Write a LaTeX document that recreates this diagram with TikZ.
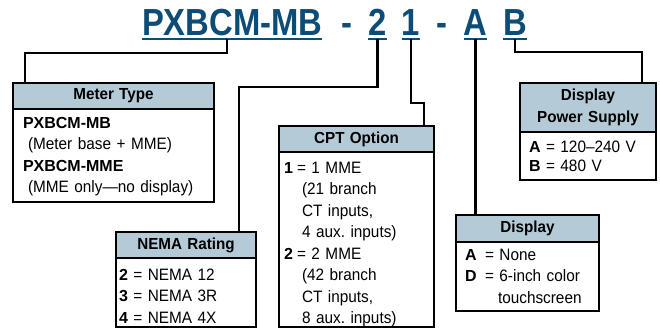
\documentclass[tikz,border=0pt]{standalone}
\usepackage{fontspec}
\setmainfont{Liberation Sans}
\newfontfamily\titlefamily{Liberation Sans}[FakeStretch=0.87]
\newfontfamily\hdrfamily{Liberation Sans}[FakeStretch=0.95]
\newfontfamily\bodyfamily{Liberation Sans}[FakeStretch=0.93]
\usetikzlibrary{positioning}

\definecolor{codeblue}{RGB}{14,76,120}
\definecolor{hdrblue}{RGB}{180,203,215}

\newcommand{\kw}[1]{{\normalfont\bfseries\fontsize{16bp}{21.5bp}\selectfont #1}}
\newcommand{\keyval}[3]{\makebox[#1][l]{\kw{#2}}= #3}

\begin{document}
\begin{tikzpicture}[
    x=1bp, y=-1bp,
    code part/.style={font=\titlefamily\bfseries\fontsize{37.7bp}{40bp}\selectfont, text=codeblue, inner xsep=0pt, inner ysep=3.5bp, text height=27bp, text depth=0pt, outer sep=0pt},
    underline/.style={codeblue, line width=2bp},
    header/.style={draw, line width=1.3bp, fill=hdrblue, inner sep=0pt, outer sep=0pt, align=center, minimum height=26bp, font=\hdrfamily\bfseries\fontsize{16bp}{22bp}\selectfont},
    body/.style={draw, line width=1.3bp, inner ysep=0pt, outer sep=0pt, align=left, font=\bodyfamily\fontsize{16.5bp}{21.5bp}\selectfont},
    link/.style={line width=2.2bp}
]
\useasboundingbox (0,0) rectangle (660,328);

% Catalog number
\node[code part, anchor=south west] (code) at (142,39) {PXBCM-MB};
\node[code part, right=19bp of code] (dash1) {-};
\node[code part, right=16bp of dash1] (two) {2};
\node[code part, right=15bp of two] (one) {1};
\node[code part, right=17bp of one] (dash2) {-};
\node[code part, right=16bp of dash2] (optA) {A};
\node[code part, right=16bp of optA] (optB) {B};
\foreach \n in {code,two,one,optA,optB}
    \draw[underline] (\n.south west) -- (\n.south east);

% Meter type
\node[header, anchor=north west, minimum width=201bp, text width=201bp] (mtype) at (13,83) {Meter Type};
\node[body, below=0pt of mtype, inner xsep=10bp, text width=181bp, text height=19bp, text depth=74bp] (mtypebody)
    {\kw{PXBCM-MB}\\\hspace*{5bp}(Meter base + MME)\\\kw{PXBCM-MME}\\\hspace*{5bp}(MME only—no display)};

% NEMA rating
\node[header, anchor=north west, minimum width=140bp, text width=140bp] (nema) at (116,232) {NEMA Rating};
\node[body, below=0pt of nema, inner xsep=3bp, text width=134bp, text height=22bp, text depth=47bp] (nemabody)
    {\kw{2} = NEMA 12\\\kw{3} = NEMA 3R\\\kw{4} = NEMA 4X};

% CPT option
\node[header, anchor=north west, minimum width=155bp, text width=155bp] (cpt) at (279,126) {CPT Option};
\node[body, below=0pt of cpt, inner xsep=5bp, text width=145bp, text height=21bp, text depth=154bp] (cptbody)
    {\keyval{13bp}{1}{1 MME}\\\hspace*{18bp}(21 branch\\\hspace*{18bp}CT inputs,\\\hspace*{18bp}4 aux.\ inputs)\\
     \keyval{13bp}{2}{2 MME}\\\hspace*{18bp}(42 branch\\\hspace*{18bp}CT inputs,\\\hspace*{18bp}8 aux.\ inputs)};

% Display
\node[header, anchor=north west, minimum width=143bp, text width=143bp, minimum height=27bp] (disp) at (456,215) {Display};
\node[body, below=0pt of disp, inner xsep=9bp, text width=125bp, text height=18bp, text depth=51bp] (dispbody)
    {\keyval{20bp}{A}{None}\\\keyval{20bp}{D}{6-inch color}\\\hspace*{33bp}touchscreen};

% Display power supply
\node[header, anchor=north west, minimum width=136bp, text width=136bp, minimum height=49bp] (power) at (520,83) {Display\\Power Supply};
\node[body, below=0pt of power, inner xsep=9bp, text width=118bp, text height=20bp, text depth=28bp,
      font=\bodyfamily\fontsize{16.5bp}{19bp}\selectfont] (powerbody)
    {\keyval{17bp}{A}{120–240 V}\\\keyval{17bp}{B}{480 V}};

% Leaders
\draw[link] ([xshift=-5bp]code.south) -- ++(0,14) -| ([xshift=12bp]mtype.north west);
\draw[link] (two.south) -- ++(0,48) -| ([xshift=-17bp]nema.north east);
\draw[link] (one.south) -- ++(0,64) -| ([xshift=-10bp]cpt.north east);
\draw[link] (optA.south) -- (optA.south |- disp.north);
\draw[link] (optB.south) -- ++(0,13) -| ([xshift=-14bp]power.north east);

\end{tikzpicture}
\end{document}
